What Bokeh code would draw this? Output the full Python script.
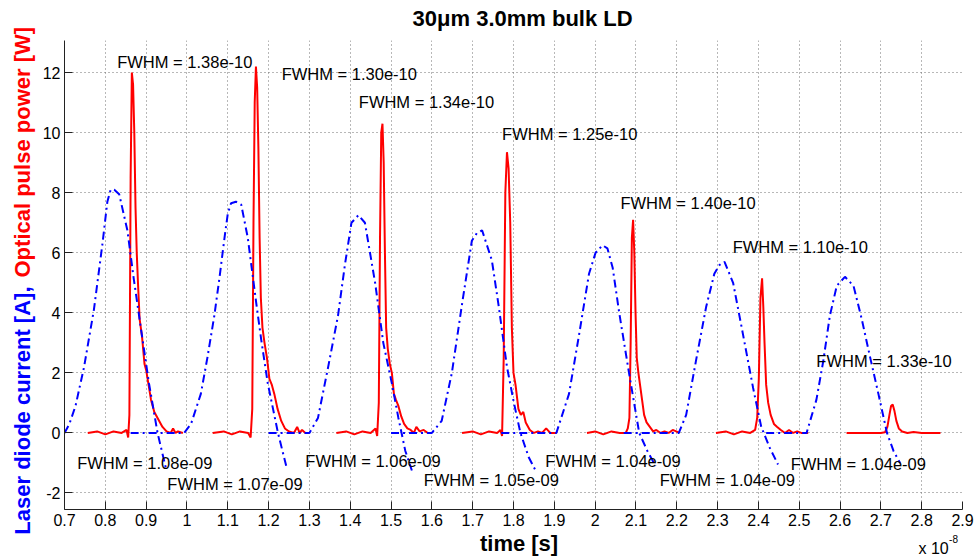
from math import pi
from bokeh.plotting import figure
from bokeh.layouts import row, column
from bokeh.models import Range1d, FixedTicker
from bokeh.embed import file_html
from bokeh.resources import INLINE
from bokeh.core.properties import value

# ---------------- data (time in units of 1e-8 s) ----------------
# Laser diode current [A] (blue dash-dot traces)
cur1_t = [0.700, 0.712, 0.727, 0.748, 0.772, 0.793, 0.805, 0.813, 0.822, 0.834, 0.854, 0.870, 0.887, 0.907, 0.928, 0.948]
cur1_a = [0.0, 0.3, 0.9, 2.2, 4.1, 6.3, 7.7, 8.1, 8.1, 7.95, 6.75, 5.1, 3.5, 1.65, 0.0, -1.15]
cur2_t = [0.862, 0.993, 1.010, 1.034, 1.050, 1.067, 1.080, 1.092, 1.100, 1.108, 1.120, 1.133, 1.149, 1.170, 1.182, 1.198, 1.223, 1.245]
cur2_a = [0.0, 0.0, 0.3, 1.3, 2.5, 3.9, 5.2, 6.5, 7.3, 7.65, 7.7, 7.6, 6.5, 4.3, 3.1, 1.65, 0.0, -1.2]
cur3_t = [1.200, 1.300, 1.321, 1.346, 1.370, 1.387, 1.403, 1.420, 1.436, 1.461, 1.481, 1.502, 1.518, 1.535, 1.551]
cur3_a = [0.0, 0.0, 0.5, 2.2, 3.9, 5.6, 7.0, 7.25, 7.0, 5.0, 3.0, 1.65, 0.5, -0.6, -1.25]
cur4_t = [1.500, 1.600, 1.624, 1.649, 1.674, 1.698, 1.710, 1.723, 1.747, 1.764, 1.784, 1.801, 1.817, 1.837, 1.854]
cur4_a = [0.0, 0.0, 0.4, 2.0, 4.3, 6.4, 6.65, 6.75, 5.75, 4.2, 2.2, 1.0, 0.0, -0.8, -1.25]
cur5_t = [1.770, 1.905, 1.936, 1.961, 1.985, 2.001, 2.018, 2.030, 2.043, 2.059, 2.083, 2.108, 2.128, 2.148]
cur5_a = [0.0, 0.0, 1.3, 3.3, 5.3, 6.0, 6.25, 6.15, 5.5, 4.0, 2.0, 0.0, -0.6, -1.1]
cur6_t = [2.070, 2.205, 2.223, 2.247, 2.272, 2.292, 2.305, 2.317, 2.338, 2.362, 2.387, 2.407, 2.428, 2.448]
cur6_a = [0.0, 0.0, 0.6, 2.4, 4.2, 5.3, 5.6, 5.7, 5.0, 3.3, 1.5, 0.2, -0.5, -1.05]
cur7_t = [2.419, 2.518, 2.542, 2.559, 2.575, 2.592, 2.612, 2.633, 2.653, 2.674, 2.694, 2.715, 2.731, 2.747]
cur7_a = [0.0, 0.0, 1.1, 2.4, 3.9, 4.9, 5.2, 4.9, 3.8, 2.5, 1.3, 0.0, -0.6, -1.0]

# Optical pulse power [W] (red traces)
pow1_t = [0.757, 0.780, 0.800, 0.820, 0.840, 0.852, 0.856, 0.859, 0.862, 0.865, 0.868, 0.871, 0.874, 0.877, 0.880,
          0.884, 0.890, 0.896, 0.900, 0.906, 0.912, 0.920, 0.930, 0.940, 0.950, 0.960, 0.966, 0.972, 0.978, 0.990]
pow1_w = [0.0, 0.05, -0.05, 0.05, 0.0, 0.1, -0.15, 0.6, 8.5, 12.0, 11.6, 10.0, 7.5, 6.0, 5.0,
          3.8, 3.2, 2.3, 2.1, 1.6, 1.1, 0.7, 0.45, 0.2, 0.05, 0.0, 0.15, 0.0, 0.05, 0.0]
pow2_t = [1.063, 1.090, 1.110, 1.130, 1.150, 1.156, 1.160, 1.163, 1.166, 1.169, 1.172, 1.175, 1.178, 1.181, 1.185,
          1.190, 1.196, 1.202, 1.208, 1.214, 1.222, 1.231, 1.240, 1.250, 1.262, 1.270, 1.276, 1.282, 1.290]
pow2_w = [0.0, 0.05, -0.05, 0.05, 0.0, -0.15, 0.8, 7.0, 11.0, 12.2, 11.5, 9.5, 6.5, 4.5, 3.5,
          3.0, 2.5, 1.8, 1.6, 1.3, 0.8, 0.4, 0.15, 0.05, 0.0, 0.2, 0.0, 0.1, 0.0]
pow3_t = [1.366, 1.390, 1.410, 1.430, 1.450, 1.462, 1.466, 1.470, 1.473, 1.476, 1.479, 1.482, 1.485, 1.488, 1.492,
          1.497, 1.502, 1.507, 1.512, 1.518, 1.525, 1.532, 1.540, 1.548, 1.556, 1.562, 1.570, 1.580, 1.590]
pow3_w = [0.0, 0.05, -0.05, 0.05, 0.0, 0.15, -0.1, 1.0, 6.5, 10.0, 10.3, 9.0, 6.0, 3.5, 2.8,
          2.3, 2.0, 1.3, 1.1, 0.9, 0.55, 0.3, 0.15, 0.1, 0.0, 0.2, 0.05, 0.1, 0.0]
pow4_t = [1.674, 1.700, 1.720, 1.740, 1.760, 1.768, 1.772, 1.776, 1.780, 1.784, 1.788, 1.792, 1.796, 1.800, 1.805,
          1.812, 1.818, 1.824, 1.830, 1.840, 1.850, 1.860, 1.870, 1.880, 1.890, 1.905]
pow4_w = [0.0, 0.05, -0.05, 0.05, 0.0, 0.1, -0.1, 2.5, 8.0, 9.35, 8.8, 7.0, 3.5, 2.0, 1.6,
          0.8, 0.6, 0.7, 0.35, 0.1, 0.0, 0.05, 0.0, 0.15, 0.0, 0.0]
pow5_t = [1.980, 2.000, 2.020, 2.040, 2.060, 2.075, 2.080, 2.084, 2.087, 2.090, 2.093, 2.096, 2.099, 2.102, 2.106,
          2.110, 2.115, 2.120, 2.126, 2.134, 2.142, 2.150, 2.160, 2.170, 2.180, 2.190, 2.207]
pow5_w = [0.0, 0.05, -0.05, 0.05, 0.0, 0.0, 0.15, 0.5, 3.0, 6.5, 7.1, 6.0, 4.0, 2.5, 2.0,
          1.6, 1.1, 0.6, 0.35, 0.2, 0.05, 0.1, 0.0, 0.05, 0.0, 0.1, 0.0]
pow6_t = [2.296, 2.320, 2.340, 2.360, 2.380, 2.392, 2.397, 2.401, 2.405, 2.409, 2.412, 2.415, 2.419, 2.424, 2.430,
          2.438, 2.446, 2.455, 2.465, 2.475, 2.485, 2.495, 2.505, 2.522]
pow6_w = [0.0, 0.05, -0.05, 0.05, 0.0, 0.1, 0.5, 1.8, 4.5, 5.15, 4.2, 3.0, 1.6, 1.0, 0.6,
          0.3, 0.2, 0.1, 0.0, 0.1, 0.0, 0.05, 0.0, 0.0]
pow7_t = [2.616, 2.650, 2.680, 2.700, 2.710, 2.716, 2.721, 2.725, 2.729, 2.733, 2.738, 2.744, 2.752, 2.765, 2.780,
          2.800, 2.820, 2.846]
pow7_w = [0.0, 0.0, 0.0, 0.0, 0.02, 0.2, 0.6, 0.9, 0.95, 0.75, 0.4, 0.15, 0.05, 0.0, 0.03,
          0.0, 0.0, 0.0]

# FWHM annotations (data coordinates of left edge / vertical middle)
fwhm_text = ["FWHM = 1.38e-10", "FWHM = 1.30e-10", "FWHM = 1.34e-10", "FWHM = 1.25e-10",
             "FWHM = 1.40e-10", "FWHM = 1.10e-10", "FWHM = 1.33e-10",
             "FWHM = 1.08e-09", "FWHM = 1.07e-09", "FWHM = 1.06e-09", "FWHM = 1.05e-09",
             "FWHM = 1.04e-09", "FWHM = 1.04e-09", "FWHM = 1.04e-09"]
fwhm_x = [0.829, 1.232, 1.421, 1.772, 2.062, 2.337, 2.542,
          0.731, 0.952, 1.290, 1.580, 1.878, 2.158, 2.479]
fwhm_y = [12.34, 11.94, 11.01, 9.97, 7.66, 6.19, 2.39,
          -0.99, -1.69, -0.92, -1.58, -0.92, -1.58, -1.02]

x_ticks = [0.7, 0.8, 0.9, 1.0, 1.1, 1.2, 1.3, 1.4, 1.5, 1.6, 1.7, 1.8, 1.9, 2.0,
           2.1, 2.2, 2.3, 2.4, 2.5, 2.6, 2.7, 2.8, 2.9]
x_tick_labels = ["0.7", "0.8", "0.9", "1", "1.1", "1.2", "1.3", "1.4", "1.5", "1.6", "1.7", "1.8", "1.9", "2",
                 "2.1", "2.2", "2.3", "2.4", "2.5", "2.6", "2.7", "2.8", "2.9"]
y_ticks = [-2, 0, 2, 4, 6, 8, 10, 12]
y_tick_labels = ["-2", "0", "2", "4", "6", "8", "10", "12"]

title_text = "30μm 3.0mm bulk LD"
xlabel_text = "time  [s]"
xscale_text = "x 10"
xscale_exp = "-8"
ylabel_blue = "Laser diode current [A],"
ylabel_red = "Optical pulse power [W]"

FONT = "Liberation Sans"
W, H = 976, 558
LEFT_W = 38          # strip holding the vertical label
TOP_H = 40           # strip holding the title
BOT_H = 26           # strip holding the x label
MAIN_W = W - LEFT_W
MAIN_H = H - TOP_H - BOT_H


def strip(width, height):
    f = figure(width=width, height=height, output_backend="svg", toolbar_location=None,
               x_range=Range1d(0, width), y_range=Range1d(height, 0),
               x_axis_type=None, y_axis_type=None, min_border=0)
    f.outline_line_color = None
    f.background_fill_color = "white"
    f.border_fill_color = "white"
    f.xgrid.visible = False
    f.ygrid.visible = False
    return f


# ---------------- main plot ----------------
p = figure(width=MAIN_W, height=MAIN_H, output_backend="svg", toolbar_location=None,
           x_range=Range1d(0.7, 2.9), y_range=Range1d(-2.55, 13.07),
           min_border_left=64 - LEFT_W, min_border_right=14, min_border_top=0, min_border_bottom=23)
p.outline_line_color = None
p.background_fill_color = "white"
p.border_fill_color = "white"

for ax, ticks, labels in ((p.xaxis, x_ticks, x_tick_labels), (p.yaxis, y_ticks, y_tick_labels)):
    ax.ticker = FixedTicker(ticks=ticks)
    ax.major_label_overrides = {float(t): l for t, l in zip(ticks, labels)}
    ax.major_tick_in = 8
    ax.major_tick_out = 0
    ax.minor_tick_line_color = None
    ax.axis_line_color = "#222222"
    ax.major_tick_line_color = "#222222"
    ax.major_label_text_font = FONT
    ax.major_label_text_font_size = "16px"
    ax.major_label_text_color = "black"
    ax.major_label_standoff = 4

p.xgrid.ticker = FixedTicker(ticks=x_ticks)
p.ygrid.ticker = FixedTicker(ticks=y_ticks)
for g in (p.xgrid, p.ygrid):
    g.grid_line_color = "#707070"
    g.grid_line_dash = "1 3"
    g.grid_line_width = 1

# red optical pulses
for t, w in ((pow1_t, pow1_w), (pow2_t, pow2_w), (pow3_t, pow3_w), (pow4_t, pow4_w),
             (pow5_t, pow5_w), (pow6_t, pow6_w), (pow7_t, pow7_w)):
    p.line(t, w, line_color="#ff0000", line_width=2)

# blue currents
for t, a in ((cur1_t, cur1_a), (cur2_t, cur2_a), (cur3_t, cur3_a), (cur4_t, cur4_a),
             (cur5_t, cur5_a), (cur6_t, cur6_a), (cur7_t, cur7_a)):
    p.line(t, a, line_color="#0000ff", line_width=2, line_dash="8 4 2 4")

p.text(x=fwhm_x, y=fwhm_y, text=fwhm_text, text_align="left", text_baseline="middle",
       text_font=value(FONT), text_font_size=value("16.5px"), text_color="black")

# ---------------- text strips (coordinates are pixels within each strip) ----------------
top = strip(MAIN_W, TOP_H)
top.text(x=[516.5 - LEFT_W], y=[18], text=[title_text], text_align="center", text_baseline="middle",
         text_font=value(FONT), text_font_style="bold", text_font_size=value("22px"), text_color="black")

bot = strip(MAIN_W, BOT_H)
bot.text(x=[516 - LEFT_W], y=[543 - (H - BOT_H)], text=[xlabel_text], text_align="center",
         text_baseline="middle", text_font=value(FONT), text_font_style="bold",
         text_font_size=value("22px"), text_color="black")
bot.text(x=[930 - LEFT_W], y=[548 - (H - BOT_H)], text=[xscale_text], text_align="left",
         text_baseline="middle", text_font=value(FONT), text_font_size=value("16px"), text_color="black")
bot.text(x=[962 - LEFT_W], y=[538 - (H - BOT_H)], text=[xscale_exp], text_align="left",
         text_baseline="middle", text_font=value(FONT), text_font_size=value("10px"), text_color="black")

left = strip(LEFT_W, H)
# blue part ends (reading upward) where the red part begins
left.text(x=[22], y=[286], text=[ylabel_blue], angle=pi / 2, text_align="right", text_baseline="middle",
          text_font=value(FONT), text_font_style="bold", text_font_size=value("22px"), text_color="#0000ff")
left.text(x=[22], y=[277], text=[ylabel_red], angle=pi / 2, text_align="left", text_baseline="middle",
          text_font=value(FONT), text_font_style="bold", text_font_size=value("22px"), text_color="#ff0000")

layout = row(left, column(top, p, bot, spacing=0), spacing=0)

open("out.html", "w").write(file_html(layout, INLINE))
